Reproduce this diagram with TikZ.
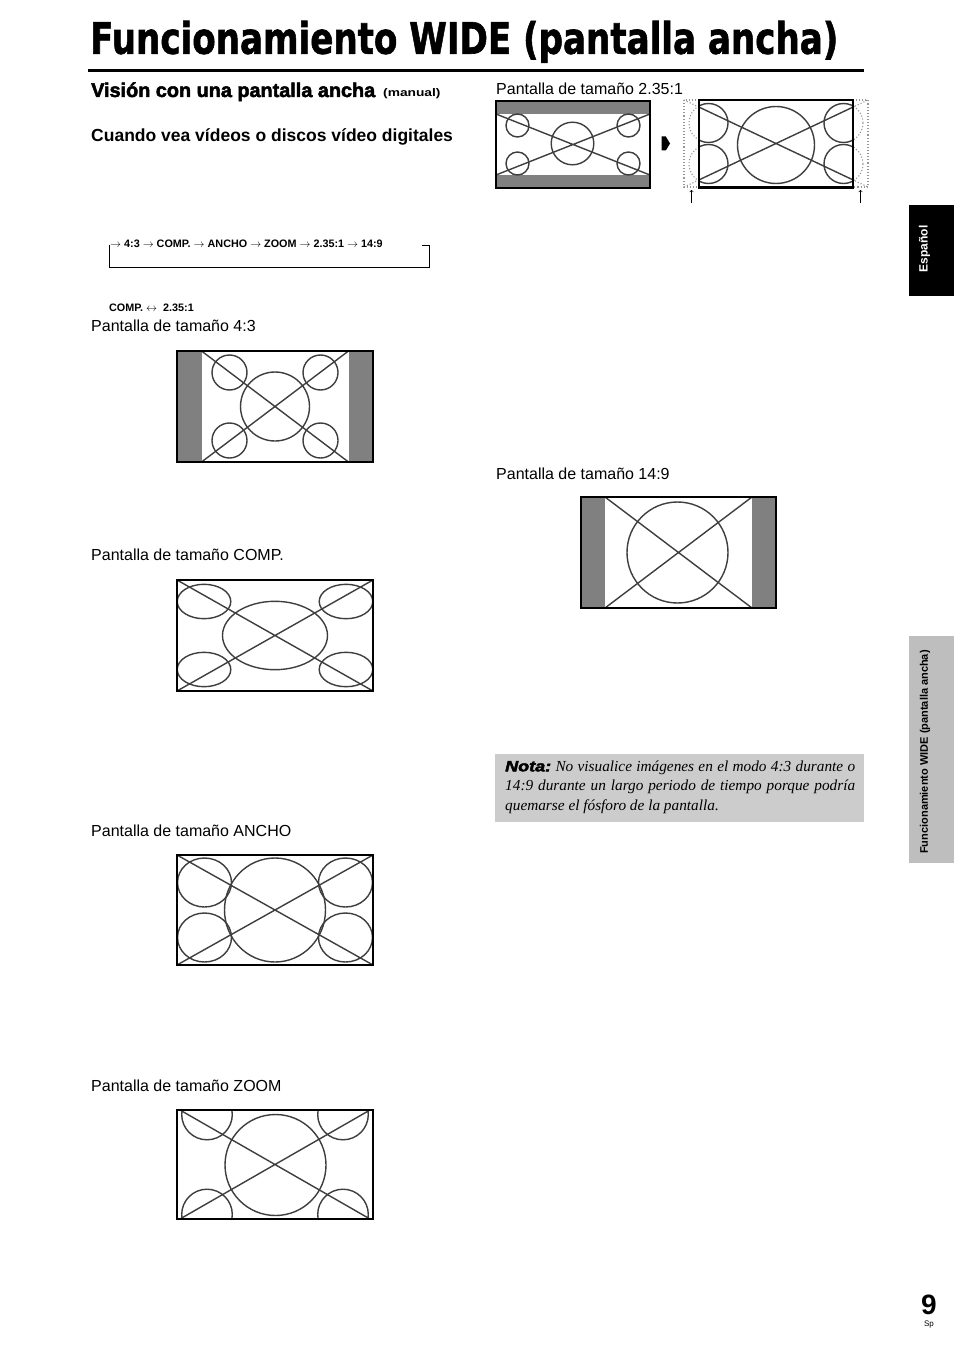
\documentclass[tikz,border=0pt]{standalone}
\usepackage{fontspec}
\usepackage{graphicx}
\setmainfont{Liberation Sans}
\newfontfamily\serifit{Liberation Serif}
\newfontfamily\titlefont{DejaVu Sans}[BoldFeatures={FakeBold=1.5}]
\newfontfamily\heavy{Liberation Sans}[BoldFeatures={FakeBold=2.5},BoldItalicFeatures={FakeBold=2.5}]
\usetikzlibrary{positioning}
\definecolor{bargrey}{RGB}{128,128,128}
\definecolor{patgrey}{RGB}{62,62,62}
\definecolor{dotgrey}{RGB}{150,150,150}
\definecolor{notagrey}{RGB}{204,204,204}
\definecolor{tabgrey}{RGB}{190,190,190}

\begin{document}
\begin{tikzpicture}[x=1pt,y=-1pt,
                    screen/.style={draw,line width=1.4pt,minimum width=196pt,minimum height=111pt,inner sep=0},
                    pat/.style={draw=patgrey,line width=1.4pt},
                    dotpat/.style={draw=dotgrey,dotted,line width=1.1pt},
                    lbl/.style={anchor=base west,inner sep=0,font=\fontsize{16}{19}\selectfont},
                    cyc/.style={anchor=base west,inner sep=0,font=\fontsize{10.8}{13}\selectfont\bfseries}]

  \useasboundingbox[fill=white] (0,0) rectangle (954,1351);

  % title and rule
  \node[anchor=south west,inner sep=0] (title) at (90,63)
    {\resizebox*{748pt}{42pt}{\titlefont\bfseries Funcionamiento WIDE (pantalla ancha)}};
  \draw[line width=3.6pt] (88,70.5) -- (864,70.5);

  % headings
  \node[anchor=base west,inner sep=0] (vision) at (91,97)
    {\resizebox{284pt}{!}{\heavy\bfseries\fontsize{17}{20}\selectfont Visión con una pantalla ancha}};
  \node[anchor=base west,inner sep=0,font=\fontsize{11}{13}\selectfont\bfseries] (manual) at (383,97)
    {\scalebox{1.25}[1]{(manual)}};
  \node[anchor=base west,inner sep=0,font=\fontsize{17.5}{20}\selectfont\bfseries] (cuando) at (91,142)
    {Cuando vea vídeos o discos vídeo digitales};

  % cycle of modes
  \node[cyc] (cycle) at (110,247)
    {$\rightarrow$ 4:3 $\rightarrow$ COMP. $\rightarrow$ ANCHO $\rightarrow$ ZOOM $\rightarrow$ 2.35:1 $\rightarrow$ 14:9};
  \coordinate (loopL) at (109,244.5);
  \coordinate (loopR) at (422,245);
  \draw[line width=0.9pt] (loopL) |- (429,267) -- (429,245) -- (loopR);
  \node[cyc] (swap) at (109,311.5) {COMP. $\leftrightarrow$\ \ 2.35:1};

  % labels
  \node[lbl] (l43)   at (91,331)  {Pantalla de tamaño 4:3};
  \node[lbl] (lcomp) at (91,560)  {Pantalla de tamaño COMP.};
  \node[lbl] (lwide) at (91,836)  {Pantalla de tamaño ANCHO};
  \node[lbl] (lzoom) at (91,1091) {Pantalla de tamaño ZOOM};
  \node[lbl] (l235)  at (496,94.5) {Pantalla de tamaño 2.35:1};
  \node[lbl] (l149)  at (496,479) {Pantalla de tamaño 14:9};

  % 4:3
  \begin{scope}[shift={(275,406.5)}]
    \fill[bargrey] (-98,-55.5) rectangle (-73.5,55.5);
    \fill[bargrey] (73.5,-55.5) rectangle (98,55.5);
    \draw[pat] (-73.5,-55.5) -- (73.5,55.5) (-73.5,55.5) -- (73.5,-55.5);
    \draw[pat] (0,0) circle[radius=34.5];
    \foreach \sx in {-1,1}
      \foreach \sy in {-1,1}
        \draw[pat] (45.5*\sx,34*\sy) circle[radius=17.5];
  \end{scope}
  \node[screen] (s43) at (275,406.5) {};

  % COMP.
  \begin{scope}[shift={(275,635.5)}]
    \draw[pat] (-98,-55.5) -- (98,55.5) (-98,55.5) -- (98,-55.5);
    \draw[pat] (0,0) ellipse[x radius=52.5,y radius=34.2];
    \foreach \sx in {-1,1}
      \foreach \sy in {-1,1}
        \draw[pat] (71*\sx,34*\sy) ellipse[x radius=26.8,y radius=17.2];
  \end{scope}
  \node[screen] (scomp) at (275,635.5) {};

  % ANCHO
  \begin{scope}[shift={(275,910)}]
    \draw[pat] (-98,-55) -- (98,55) (-98,55) -- (98,-55);
    \draw[pat] (0,0) ellipse[x radius=50.5,y radius=52];
    \foreach \sx in {-1,1}
      \foreach \sy in {-1,1}
        \draw[pat] (70.5*\sx,27.5*\sy) ellipse[x radius=27,y radius=24.5];
  \end{scope}
  \node[screen,minimum height=110pt] (swide) at (275,910) {};

  % ZOOM
  \begin{scope}[shift={(275,1164.5)}]
    \clip (-98,-54.5) rectangle (98,54.5);
    \draw[pat] (-95,-54.5) -- (95,54.5) (-95,54.5) -- (95,-54.5);
    \draw[pat] (0.5,0.5) circle[radius=50.5];
    \foreach \sx in {-1,1}
      \foreach \sy in {-1,1}
        \draw[pat] (68*\sx,50*\sy) circle[radius=25.3];
  \end{scope}
  \node[screen,minimum height=109pt] (szoom) at (275,1164.5) {};

  % 14:9
  \begin{scope}[shift={(678.5,552.5)}]
    \fill[bargrey] (-97.5,-55.5) rectangle (-73.5,55.5);
    \fill[bargrey] (73.5,-55.5) rectangle (97.5,55.5);
    \draw[pat] (-73.5,-55.5) -- (73.5,55.5) (-73.5,55.5) -- (73.5,-55.5);
    \draw[pat] (-1,0) circle[radius=50.5];
  \end{scope}
  \node[screen,minimum width=195pt] (s149) at (678.5,552.5) {};

  % 2.35:1 letterbox
  \begin{scope}[shift={(573,144.5)}]
    \fill[bargrey] (-77,-43.5) rectangle (77,-30.5);
    \fill[bargrey] (-77,30.5) rectangle (77,43.5);
    \draw[pat] (-77,-30.5) -- (77,30.5) (-77,30.5) -- (77,-30.5);
    \draw[pat] (-0.5,-1) circle[radius=21.3];
    \foreach \sx in {-1,1}
      \foreach \sy in {-1,1}
        \draw[pat] (55.5*\sx,19*\sy) circle[radius=11.5];
  \end{scope}
  \node[screen,minimum width=154pt,minimum height=87pt] (s235a) at (573,144.5) {};

  \fill (661.7,136.5) -- (665.8,136.5) -- (670,143.5) -- (665.8,150.5) -- (661.7,150.5) -- cycle;

  % 2.35:1 zoomed
  \begin{scope}[shift={(776,143.5)}]
    \draw[dotpat] (-92,-43.5) rectangle (92,43.5);
    \draw[dotpat] (-92,-43.5) -- (92,43.5) (-92,43.5) -- (92,-43.5);
    \foreach \sx in {-1,1}
      \foreach \sy in {-1,1}
        \draw[dotpat] (67.5*\sx,20.5*\sy) circle[radius=19.5];
    \begin{scope}
      \clip (-77,-43.5) rectangle (77,43.5);
      \fill[white] (-77,-43.5) rectangle (77,43.5);
      \draw[pat] (-92,-43.5) -- (92,43.5) (-92,43.5) -- (92,-43.5);
      \draw[pat] (0,1.5) circle[radius=38.5];
      \foreach \sx in {-1,1}
        \foreach \sy in {-1,1}
          \draw[pat] (67.5*\sx,20.5*\sy) circle[radius=19.5];
    \end{scope}
  \end{scope}
  \node[screen,minimum width=154pt,minimum height=87pt] (s235b) at (776,143.5) {};
  \draw[line width=2.6pt] (s235b.south west) -- (s235b.south east);

  \coordinate (upLa) at (691.5,203);
  \coordinate (upLb) at (691.5,190);
  \coordinate (upRa) at (860.5,203);
  \coordinate (upRb) at (860.5,190);
  \draw[->,line width=0.6pt] (upLa) -- (upLb);
  \draw[->,line width=0.6pt] (upRa) -- (upRb);

  % note
  \fill[notagrey] (495,754) rectangle (864,822);
  \node[anchor=north west,inner sep=0,text width=350pt,align=justify,
        font=\serifit\itshape\fontsize{15.3}{19.5}\selectfont] (nota) at (505,760.5)
    {\scalebox{1.2}[1]{\heavy\bfseries\itshape\fontsize{15}{18}\selectfont Nota:} No visualice imágenes en el modo 4:3 durante o\linebreak
     14:9 durante un largo periodo de tiempo porque podría\linebreak
     quemarse el fósforo de la pantalla.};

  % side tabs
  \fill[black] (909,205) rectangle (954,296);
  \node[rotate=90,text=white,inner sep=0,font=\fontsize{12}{14}\selectfont\bfseries] (esp) at (924.5,249) {Español};
  \fill[tabgrey] (909,636) rectangle (954,863);
  \node[rotate=90,inner sep=0,font=\fontsize{11}{13}\selectfont\bfseries] (tabtxt) at (925,752)
    {Funcionamiento WIDE (pantalla ancha)};

  % page number
  \node[inner sep=0,font=\fontsize{28}{30}\selectfont\bfseries] (pnum) at (929,1305) {9};
  \node[inner sep=0,font=\fontsize{8}{9}\selectfont,below=6pt of pnum] (sp) {Sp};
\end{tikzpicture}
\end{document}
